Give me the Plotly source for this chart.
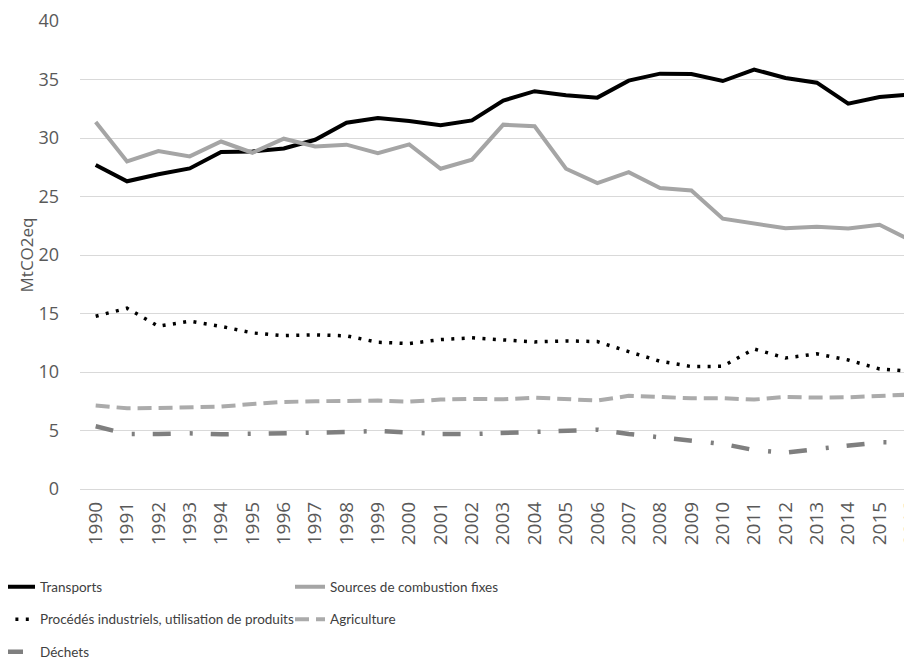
import plotly.graph_objects as go

YEARS = [str(y) for y in range(1990, 2017)]

TRANSPORTS = [
    27.7, 26.3, 26.9, 27.4, 28.8, 28.85, 29.1, 29.85, 31.3, 31.7, 31.45, 31.1, 31.5,
    33.2, 34.0, 33.65, 33.45, 34.9, 35.5, 35.47, 34.87, 35.85, 35.13, 34.73, 32.93,
    33.5, 33.73,
]
SOURCES_FIXES = [
    31.36, 28.0, 28.88, 28.43, 29.7, 28.74, 29.94, 29.28, 29.43, 28.7, 29.45, 27.37,
    28.15, 31.14, 31.0, 27.37, 26.14, 27.08, 25.72, 25.52, 23.1, 22.72, 22.29, 22.41,
    22.27, 22.58, 21.24,
]
PROCEDES = [
    14.77, 15.45, 13.91, 14.34, 13.9, 13.34, 13.11, 13.17, 13.09, 12.54, 12.43, 12.77,
    12.92, 12.75, 12.57, 12.66, 12.6, 11.74, 10.92, 10.46, 10.49, 11.97, 11.2, 11.55,
    11.03, 10.26, 10.06,
]
AGRICULTURE = [
    7.13, 6.9, 6.92, 6.98, 7.04, 7.27, 7.44, 7.5, 7.53, 7.56, 7.47, 7.64, 7.7, 7.67,
    7.81, 7.7, 7.56, 7.96, 7.87, 7.76, 7.76, 7.64, 7.87, 7.81, 7.84, 7.99, 8.07,
]
DECHETS = [
    5.36, 4.7, 4.7, 4.76, 4.67, 4.7, 4.78, 4.78, 4.87, 4.96, 4.84, 4.7, 4.7, 4.78,
    4.84, 4.9, 5.07, 4.7, 4.42, 4.22, 3.85, 3.33, 3.1, 3.42, 3.71, 3.99, 3.99,
]

TICK_FONT = dict(family="Open Sans, Liberation Sans", size=18, color="#595959")
LEGEND_FONT = dict(family="Lato, Liberation Sans", size=13.5, color="#404040")

series = [
    ("Transports", TRANSPORTS, dict(color="#000000", width=4), "legend"),
    ("Sources de combustion fixes", SOURCES_FIXES, dict(color="#a5a5a5", width=4), "legend2"),
    ("Procédés industriels, utilisation de produits", PROCEDES,
     dict(color="#000000", width=3.5, dash="3px,7.4px"), "legend"),
    ("Agriculture", AGRICULTURE, dict(color="#ababab", width=4, dash="14px,7px"), "legend2"),
    ("Déchets", DECHETS, dict(color="#7f7f7f", width=4.5, dash="18px,19px,3px,18px"), "legend"),
]

fig = go.Figure()
for name, values, line, legend in series:
    fig.add_trace(
        go.Scatter(
            x=YEARS,
            y=values,
            mode="lines",
            name=name,
            line=line,
            legend=legend,
            legendgroup=name,
        )
    )

# the page body adds 8px on the left and top, so the margins are 8px smaller
legend_common = dict(
    orientation="v",
    xanchor="left",
    yanchor="top",
    y=-0.176,
    font=LEGEND_FONT,
    tracegroupgap=12,
    bgcolor="rgba(0,0,0,0)",
    itemwidth=30,
)

fig.update_layout(
    width=912,
    height=665,
    margin=dict(l=72, r=0, t=13, b=184, autoexpand=False),
    plot_bgcolor="white",
    paper_bgcolor="white",
    showlegend=True,
    legend=dict(x=-80 / 840, **legend_common),
    legend2=dict(x=210 / 840, **legend_common),
    xaxis=dict(
        type="category",
        range=[-0.5, 26.29],
        tickangle=-90,
        tickfont=dict(TICK_FONT, size=19),
        ticklabelstandoff=8,
        showgrid=False,
        showline=False,
        ticks="",
        zeroline=False,
        automargin=False,
    ),
    yaxis=dict(
        range=[0, 40],
        dtick=5,
        tickfont=TICK_FONT,
        gridcolor="#d9d9d9",
        gridwidth=1,
        zeroline=True,
        zerolinecolor="#d9d9d9",
        zerolinewidth=1,
        showline=False,
        ticks="",
        ticklabelstandoff=20,
        automargin=False,
        title=dict(text="MtCO2eq", font=dict(family="Open Sans, Liberation Sans", size=17, color="#595959"), standoff=0),
    ),
)

fig.write_html("out.html")
